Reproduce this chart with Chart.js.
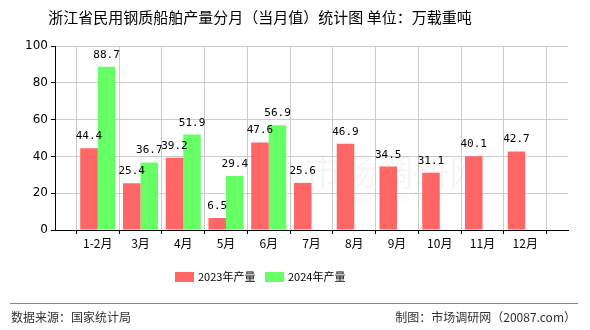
<!DOCTYPE html>
<html>
<head>
<meta charset="utf-8">
<script src="https://cdn.jsdelivr.net/npm/chart.js@4"></script>
<style>
  html, body { margin: 0; padding: 0; background: #fff; }
  #wrap { width: 590px; height: 330px; position: relative; }
</style>
</head>
<body>
<div id="wrap"><canvas id="chart" width="590" height="330"></canvas></div>
<script>
// Data (blank slots at both ends keep the axis padding seen in the picture)
const months = ["", "1-2月", "3月", "4月", "5月", "6月", "7月", "8月", "9月", "10月", "11月", "12月", ""];
const output2023 = [null, 44.4, 25.4, 39.2, 6.5, 47.6, 25.6, 46.9, 34.5, 31.1, 40.1, 42.7, null];
const output2024 = [null, 88.7, 36.7, 51.9, 29.4, 56.9, null, null, null, null, null, null, null];
const yTicks = [0, 20, 40, 60, 80, 100];

const titleText = "浙江省民用钢质船舶产量分月（当月值）统计图 单位：万载重吨";
const sourceText = "数据来源：国家统计局";
const makerText = "制图：市场调研网（20087.com）";

const CJK = '"Noto Sans CJK SC", "DejaVu Sans", sans-serif';

// Value labels above bars + title, legend, footer
const decorate = {
    id: "decorate",
    beforeDatasetsDraw(chart) {
        // faint site watermark
        const ctx = chart.ctx;
        ctx.save();
        ctx.fillStyle = "rgba(0,0,0,0.035)";
        ctx.textAlign = "center";
        ctx.textBaseline = "middle";
        ctx.font = "36px " + CJK;
        ctx.fillText("市场调研网", 395, 172);
        ctx.font = "14px " + CJK;
        ctx.fillText("www.20087.com", 395, 197);
        ctx.restore();
    },
    afterDatasetsDraw(chart) {
        const ctx = chart.ctx;
        ctx.save();
        ctx.font = '11px "DejaVu Sans Mono", monospace';
        ctx.fillStyle = "#000";
        ctx.textAlign = "center";
        ctx.textBaseline = "alphabetic";
        chart.data.datasets.forEach((ds, i) => {
            chart.getDatasetMeta(i).data.forEach((bar, j) => {
                const v = ds.data[j];
                if (v == null) return;
                ctx.fillText(v.toFixed(1), bar.x, bar.y - 9);
            });
        });
        ctx.restore();
    },
    afterDraw(chart) {
        const ctx = chart.ctx;
        ctx.save();
        ctx.fillStyle = "#000";
        ctx.font = "15px " + CJK;
        ctx.textAlign = "center";
        ctx.textBaseline = "middle";
        ctx.fillText(titleText, 260, 17);

        // legend
        ctx.font = "11px " + CJK;
        ctx.textAlign = "left";
        let x = 175;
        chart.data.datasets.forEach((ds) => {
            ctx.fillStyle = ds.backgroundColor;
            ctx.fillRect(x, 272, 19, 10);
            ctx.fillStyle = "#000";
            ctx.fillText(ds.label, x + 23, 277);
            x += 90;
        });

        ctx.strokeStyle = "#888";
        ctx.lineWidth = 1;
        ctx.beginPath();
        ctx.moveTo(10, 303.5);
        ctx.lineTo(578, 303.5);
        ctx.stroke();

        ctx.fillStyle = "#333";
        ctx.font = "12px " + CJK;
        ctx.textAlign = "left";
        ctx.fillText(sourceText, 11, 317);
        ctx.textAlign = "right";
        ctx.fillText(makerText, 576, 317);
        ctx.restore();
    }
};

new Chart(document.getElementById("chart"), {
    type: "bar",
    data: {
        labels: months,
        datasets: [
            { label: "2023年产量", data: output2023, backgroundColor: "#ff6666" },
            { label: "2024年产量", data: output2024, backgroundColor: "#66ff66" }
        ]
    },
    options: {
        responsive: false,
        animation: false,
        layout: { padding: { top: 46, right: 22, bottom: 76, left: 0 } },
        datasets: { bar: { barPercentage: 1, categoryPercentage: 0.82 } },
        scales: {
            x: {
                offset: false,
                grid: { color: "#cccccc", tickColor: "#000", tickLength: 4, drawOnChartArea: true },
                border: { color: "#000" },
                ticks: { color: "#000", font: { size: 12, family: CJK }, maxRotation: 0, autoSkip: false, padding: 2 },
                afterFit(axis) { axis.height = 24; }
            },
            y: {
                min: 0,
                max: 100,
                afterBuildTicks(axis) { axis.ticks = yTicks.map(v => ({ value: v })); },
                grid: { color: "#cccccc", tickColor: "#000", tickLength: 4 },
                border: { color: "#000" },
                ticks: { color: "#000", font: { size: 12, family: "DejaVu Sans" }, padding: 3 },
                afterFit(axis) { axis.width = 55; }
            }
        },
        plugins: {
            title: { display: false },
            tooltip: { enabled: false },
            legend: { display: false }
        }
    },
    plugins: [decorate]
});
</script>
</body>
</html>
